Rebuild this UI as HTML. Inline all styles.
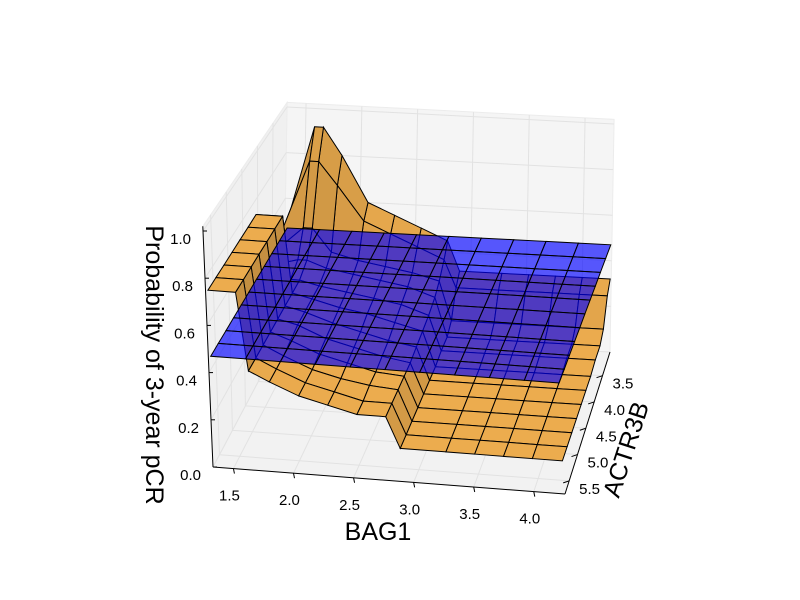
<!DOCTYPE html>
<html><head><meta charset="utf-8"><style>
html,body{margin:0;padding:0;background:#fff}
svg{display:block;font-family:"Liberation Sans",sans-serif}
</style></head><body>
<svg id="chart" width="800" height="600" viewBox="0 0 800 600">
<rect width="800" height="600" fill="#fff"/>
<g id="panes"></g>
<g id="surf"></g>
<g id="axes"></g>
<text x="378" y="540" font-size="25" text-anchor="middle">BAG1</text>
<text transform="translate(634,452) rotate(-72)" font-size="25" text-anchor="middle">ACTR3B</text>
<text transform="translate(146,365) rotate(90)" font-size="25" text-anchor="middle">Probability of 3-year pCR</text>
</svg>
<script>
// ---- data ----
const bagTicks = [1.5, 2.0, 2.5, 3.0, 3.5, 4.0];
const actTicks = [3.5, 4.0, 4.5, 5.0, 5.5];
const zTicks = [0.0, 0.2, 0.4, 0.6, 0.8, 1.0];
const bagGrid = [1.35,1.58,1.66,1.83,2.07,2.31,2.55,2.79,2.90,3.28,3.52,3.76,4.00,4.25];
const actGrid = [3.05,3.20,3.40,3.59,3.86,4.13,4.40,4.67,4.94,5.21,5.48,5.75];
const orangeZ = [
 [0.50,0.92,0.92,0.80,0.60,0.55,0.50,0.45,0.32,0.32,0.32,0.32,0.32,0.32],
 [0.50,0.80,0.80,0.70,0.55,0.50,0.45,0.40,0.28,0.28,0.28,0.28,0.28,0.28],
 [0.45,0.55,0.55,0.45,0.42,0.40,0.38,0.35,0.18,0.18,0.18,0.18,0.18,0.18],
 [0.42,0.45,0.45,0.42,0.40,0.38,0.36,0.32,0.15,0.15,0.15,0.15,0.15,0.15],
 [0.42,0.42,0.42,0.40,0.38,0.36,0.34,0.30,0.15,0.15,0.15,0.15,0.15,0.15],
 [0.75,0.75,0.42,0.40,0.37,0.35,0.32,0.29,0.14,0.14,0.14,0.14,0.14,0.14],
 [0.75,0.75,0.42,0.40,0.36,0.33,0.30,0.28,0.14,0.14,0.14,0.14,0.14,0.14],
 [0.75,0.75,0.42,0.40,0.35,0.32,0.29,0.27,0.14,0.14,0.14,0.14,0.14,0.14],
 [0.75,0.75,0.42,0.39,0.34,0.31,0.28,0.27,0.14,0.14,0.14,0.14,0.14,0.14],
 [0.75,0.75,0.42,0.38,0.33,0.30,0.28,0.27,0.14,0.14,0.14,0.14,0.14,0.14],
 [0.75,0.75,0.42,0.38,0.33,0.30,0.27,0.27,0.14,0.14,0.14,0.14,0.14,0.14],
 [0.75,0.75,0.42,0.38,0.33,0.30,0.27,0.27,0.14,0.14,0.14,0.14,0.14,0.14]
];
const blueBag = [1.35,1.64,1.93,2.22,2.51,2.80,3.09,3.38,3.67,3.96,4.25];
const blueAct = [3.05,3.32,3.59,3.86,4.13,4.40,4.67,4.94,5.21,5.48,5.75];
const blueLevel = [0.47];

// ---- projection ----
const BMIN=1.33,BMAX=4.26,AMIN=3.05,AMAX=5.75,ZMAX=1.02;
const BL=[283,335],BR=[610,352],FL=[213,467],FR=[565,494];
const WB=[4,-228],WF=[-10,-236];
function proj(b,a,z){
  const s=(b-BMIN)/(BMAX-BMIN), t=(a-AMIN)/(AMAX-AMIN);
  const x=(1-s)*(1-t)*BL[0]+s*(1-t)*BR[0]+(1-s)*t*FL[0]+s*t*FR[0];
  const y=(1-s)*(1-t)*BL[1]+s*(1-t)*BR[1]+(1-s)*t*FL[1]+s*t*FR[1];
  const wx=WB[0]*(1-t)+WF[0]*t, wy=WB[1]*(1-t)+WF[1]*t;
  return [x+wx*z,y+wy*z];
}
const NS="http://www.w3.org/2000/svg";
function mk(tag,attrs,parent){const e=document.createElementNS(NS,tag);for(const k in attrs)e.setAttribute(k,attrs[k]);parent.appendChild(e);return e;}
function pts(arr){return arr.map(p=>p[0].toFixed(1)+","+p[1].toFixed(1)).join(" ");}

// panes
const panes=document.getElementById('panes');
let e;
e=mk('polygon',{points:pts([proj(BMIN,AMIN,0),proj(BMAX,AMIN,0),proj(BMAX,AMIN,ZMAX),proj(BMIN,AMIN,ZMAX)]),fill:'#f5f5f5',stroke:'#ececec'},panes);


e=mk('polygon',{points:pts([proj(BMIN,AMIN,0),proj(BMIN,AMAX,0),proj(BMIN,AMAX,ZMAX),proj(BMIN,AMIN,ZMAX)]),fill:'#f0f0f0',stroke:'#ececec'},panes);


e=mk('polygon',{points:pts([proj(BMIN,AMIN,0),proj(BMAX,AMIN,0),proj(BMAX,AMAX,0),proj(BMIN,AMAX,0)]),fill:'#f2f2f2',stroke:'#ececec'},panes);


function gl(p,q,name){const l=mk('line',{x1:p[0],y1:p[1],x2:q[0],y2:q[1],stroke:'#e2e2e2','stroke-width':1},panes);

}
bagTicks.forEach(b=>{gl(proj(b,AMIN,0),proj(b,AMIN,ZMAX),'grid-line');gl(proj(b,AMIN,0),proj(b,AMAX,0),'grid-line');});
actTicks.forEach(a=>{gl(proj(BMIN,a,0),proj(BMAX,a,0),'grid-line');gl(proj(BMIN,a,0),proj(BMIN,a,ZMAX),'grid-line');});
zTicks.forEach(z=>{gl(proj(BMIN,AMIN,z),proj(BMAX,AMIN,z),'grid-line');gl(proj(BMIN,AMIN,z),proj(BMIN,AMAX,z),'grid-line');});

// axes
const axes=document.getElementById('axes');
function al(p,q,name){const l=mk('line',{x1:p[0],y1:p[1],x2:q[0],y2:q[1],stroke:'#000','stroke-width':1},axes);

}
function tx(x,y,s,anchor,name){const t=mk('text',{x:x,y:y,'font-size':15,'text-anchor':anchor},axes);t.textContent=s;

}
al(proj(BMIN,AMAX,0),proj(BMAX,AMAX,0),'x-axis-line');
al(proj(BMAX,AMIN,0),proj(BMAX,AMAX,0),'y-axis-line');
al(proj(BMIN,AMAX,0),proj(BMIN,AMAX,ZMAX),'z-axis-line');
bagTicks.forEach(b=>{const p=proj(b,AMAX,0);al(p,[p[0]+1,p[1]+5],'x-tick');tx(p[0]-4,p[1]+32,b.toFixed(1),'middle','x-tick-label');});
actTicks.forEach(a=>{const p=proj(BMAX,a,0);al(p,[p[0]-6,p[1]+2],'y-tick');tx(p[0]+10,p[1]+13,a.toFixed(1),'start','y-tick-label');});
zTicks.forEach(z=>{const p=proj(BMIN,AMAX,z);al(p,[p[0]+4,p[1]],'z-tick');tx(p[0]-12,p[1]+13,z.toFixed(1),'end','z-tick-label');});

// surfaces
const orangeQ=[],blueQ=[];
for(let r=0;r<actGrid.length-1;r++)for(let c=0;c<bagGrid.length-1;c++){
  const P=[[bagGrid[c],actGrid[r],orangeZ[r][c]],[bagGrid[c+1],actGrid[r],orangeZ[r][c+1]],[bagGrid[c+1],actGrid[r+1],orangeZ[r+1][c+1]],[bagGrid[c],actGrid[r+1],orangeZ[r+1][c]]];
  orangeQ.push({P:P,kind:'orange'});
}
for(let r=0;r<blueAct.length-1;r++)for(let c=0;c<blueBag.length-1;c++){
  const z=blueLevel[0];
  blueQ.push({P:[[blueBag[c],blueAct[r],z],[blueBag[c+1],blueAct[r],z],[blueBag[c+1],blueAct[r+1],z],[blueBag[c],blueAct[r+1],z]],kind:'blue'});
}
function keyOf(q){let s=0,t=0,z=0;q.P.forEach(p=>{s+=(p[0]-BMIN)/(BMAX-BMIN);t+=(p[1]-AMIN)/(AMAX-AMIN);z+=p[2];});return t/4+0.15*s/4+0.3*z/4;}
[orangeQ,blueQ].forEach(L=>{L.forEach(q=>q.key=keyOf(q));L.sort((a,b)=>a.key-b.key);});
const surf=document.getElementById('surf');
function draw(q){
  const sp=q.P.map(p=>proj(p[0],p[1],p[2]));
  let attrs;
  if(q.kind==='orange'){
    const sx=(q.P[1][0]-q.P[0][0])/(BMAX-BMIN), dzx=((q.P[1][2]+q.P[2][2])-(q.P[0][2]+q.P[3][2]))/2;
    const sy=(q.P[3][1]-q.P[0][1])/(AMAX-AMIN), dzy=((q.P[3][2]+q.P[2][2])-(q.P[0][2]+q.P[1][2]))/2;
    const nx=dzx/sx, ny=dzy/sy, nz=1/Math.sqrt(1+(nx*nx+ny*ny)*0.3);
    const f=0.8+0.2*nz;
    attrs={points:pts(sp),fill:'rgb('+Math.round(236*f)+','+Math.round(172*f)+','+Math.round(78*f)+')',stroke:'#000','stroke-width':1};
  } else {
    attrs={points:pts(sp),fill:'#0000ff','fill-opacity':0.65,stroke:'#000','stroke-width':1};
  }
  const el=mk('polygon',attrs,surf);
  
  
}
orangeQ.forEach(draw);
blueQ.forEach(draw);
</script>
</body></html>
